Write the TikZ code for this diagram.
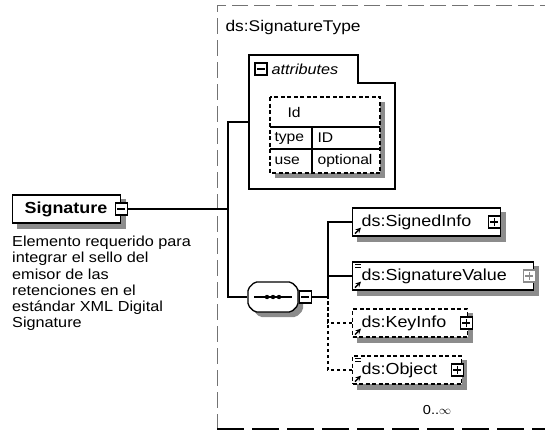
\documentclass[tikz,border=0pt]{standalone}
\usepackage{fontspec}
\setmainfont{Liberation Sans}[FakeStretch=1.12]
\usepackage{tikz}
\usetikzlibrary{calc, shapes.misc, positioning, backgrounds}

\definecolor{gris sombra}{RGB}{140,140,140}

\tikzset{
    linea/.style={line width=1.3pt},
    caja/.style={draw, fill=white, line width=1.3pt, minimum height=28pt,
        inner xsep=9pt, inner ysep=0pt, align=left, anchor=west,
        font=\fontsize{16}{17}\selectfont},
    opcional/.style={caja, dash pattern=on 4pt off 2.5pt},
    icono/.style={draw, fill=white, line width=1.3pt, minimum size=12pt, inner sep=0pt},
    menos/.style={icono, path picture={
        \draw[line width=1.2pt] ([xshift=2pt]path picture bounding box.west) -- ([xshift=-2pt]path picture bounding box.east);}},
    mas/.style={icono, path picture={
        \draw[line width=1.2pt] ([xshift=2pt]path picture bounding box.west) -- ([xshift=-2pt]path picture bounding box.east);
        \draw[line width=1.2pt] ([yshift=-2pt]path picture bounding box.north) -- ([yshift=2pt]path picture bounding box.south);}},
    secuencia/.style={draw, fill=white, line width=1.3pt, chamfered rectangle,
        chamfered rectangle xsep=6pt, minimum width=50pt, minimum height=30pt,
        rounded corners=2pt},
    sombra/.style={fill=gris sombra},
}

\begin{document}
\begin{tikzpicture}[x=1pt, y=-1pt, >=stealth]
    \useasboundingbox (0,0) rectangle (545,437);

    % Marco del tipo complejo
    \draw[black!55, line width=1pt, dash pattern=on 16pt off 6pt] (600,5) -- (217,5) -- (217,429);
    \draw[line width=2.2pt, dash pattern=on 27pt off 8pt] (217,429) -- (600,429);
    \node[anchor=west, font=\fontsize{15.5}{17}\selectfont] (tipo) at (222,27) {ds:SignatureType};

    % Elemento raiz y su descripcion
    \node[caja, inner xsep=12pt, text width=84pt] (sig) at (12,209) {\textbf{Signature}};
    \node[menos] (sigicon) at (sig.east) {};
    \node[anchor=north west, align=left, inner sep=0pt,
          font=\fontsize{14.5}{16.2}\selectfont] (desc) at (12,236)
        {Elemento requerido para\\integrar el sello del\\emisor de las\\retenciones en el\\est\'andar XML Digital\\Signature};

    % Grupo de atributos
    \draw[linea] (249,55) -- (358,55) -- (358,83) -- (395,83) -- (395,189) -- (249,189) -- cycle;
    \node[menos] (attricon) at (261,69) {};
    \node[anchor=west, font=\fontsize{14.5}{16}\selectfont\itshape] (attrtxt) at (268,69) {attributes};
    \coordinate (attr) at (249,122);

    % Tabla del atributo Id
    \fill[sombra] (275,102) rectangle (385,178);
    \draw[fill=white, line width=1.2pt, dash pattern=on 4pt off 2.5pt] (270,97) rectangle (380,173);
    \draw[linea] (270,127) -- (380,127);
    \draw[linea] (270,149) -- (380,149);
    \draw[linea] (312,127) -- (312,173);
    \begin{scope}[every node/.style={anchor=west, font=\fontsize{14}{15}\selectfont}]
        \node (idtxt) at (284,112) {Id};
        \node (typetxt) at (271,138) {type};
        \node (typeval) at (314,138) {ID};
        \node (usetxt) at (271,161) {use};
        \node (useval) at (314,161) {optional};
    \end{scope}

    % Compositor de secuencia
    \node[secuencia] (seq) at (273,297) {};
    \draw[linea] ([xshift=7pt]seq.west) -- ([xshift=-7pt]seq.east);
    \foreach \d in {-6,0,6}
        \fill ([xshift=\d pt]seq.center) circle (2.2pt);
    \node[menos, right=0pt of seq] (seqicon) {};
    \coordinate (junta) at (228,209);
    \coordinate (rama) at (328,297);

    % Elementos hijos
    \node[caja, text width=130pt] (si) at (352,222) {ds:SignedInfo};
    \node[caja, text width=163pt] (sv) at (352,276) {ds:SignatureValue};
    \node[opcional, text width=97pt] (ki) at (352,323) {ds:KeyInfo};
    \node[opcional, text width=91pt] (ob) at (352,370) {ds:Object};
    \node[mas] (siicon) at ([xshift=-7pt]si.east) {};
    \node[mas, draw=black!45] (svicon) at ([xshift=-5pt]sv.east) {};
    \node[mas] (kiicon) at ([xshift=-2pt]ki.east) {};
    \node[mas] (obicon) at ([xshift=-5pt]ob.east) {};
    \node[font=\fontsize{13}{14}\selectfont] (card) at (437,410) {0..$\infty$};

    % Sombras
    \begin{scope}[on background layer]
        \foreach \n in {sig,si,sv,ki,ob}
            \fill[sombra] ([shift={(5pt,-5pt)}]\n.south west) rectangle ([shift={(5pt,-5pt)}]\n.north east);
        \node[secuencia, draw=none, sombra] (seqsombra) at ([shift={(5pt,-5pt)}]seq.center) {};
    \end{scope}

    % Marcas de referencia y contenido simple
    \foreach \n in {si,sv,ki,ob}
        \draw[->, line width=1.4pt] ([xshift=3pt, yshift=3pt]\n.south west) -- ++(6,-6);
    \foreach \n in {sv,ob} {
        \draw[line width=1pt] ([xshift=3pt, yshift=-3pt]\n.north west) -- ++(6,0);
        \draw[line width=1pt] ([xshift=3pt, yshift=-6pt]\n.north west) -- ++(6,0);
    }

    % Conexiones
    \draw[linea] (sigicon) -- (junta);
    \draw[linea] (attr) -- (attr -| junta) -- (seq.west -| junta) -- (seq.west);
    \draw[linea] (seqicon) -- (rama);
    \draw[linea] (si.west) -| (rama);
    \draw[linea] (sv.west) -| (rama);
    \draw[linea, dashed] (ki.west) -| (rama);
    \draw[linea, dashed] (ob.west) -| (rama);
\end{tikzpicture}
\end{document}
